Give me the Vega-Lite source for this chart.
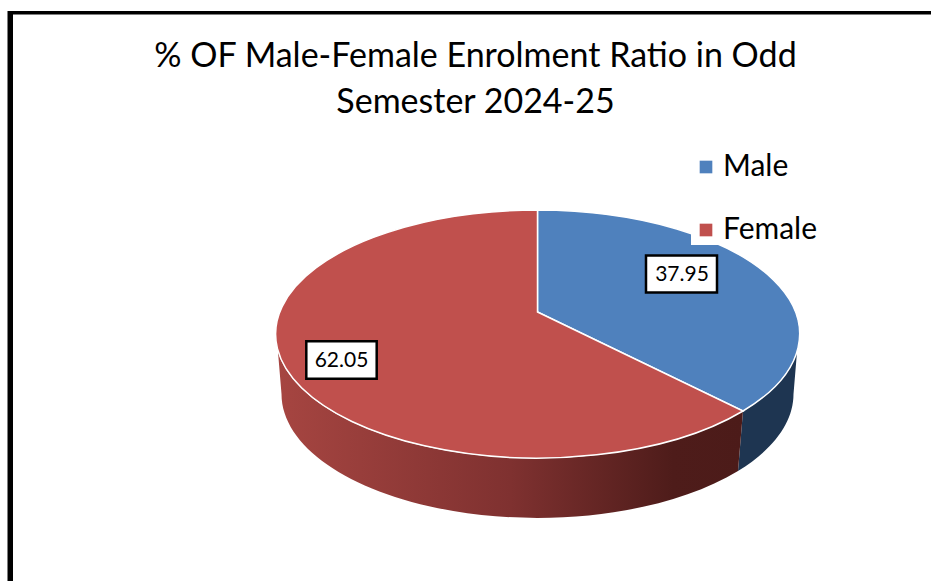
{"$schema":"https://vega.github.io/schema/vega-lite/v6.json","width":931,"height":481,"autosize":"none","padding":{"left":0,"right":0,"top":100,"bottom":0},"background":"white","view":{"stroke":null},"title":{"text":["% OF Male-Female Enrolment Ratio in Odd","Semester 2024-25"],"font":"Lato","fontSize":34,"fontWeight":"normal","color":"#000000","lineHeight":46,"anchor":"middle","frame":"group","dx":10,"offset":-136,"baseline":"alphabetic"},"data":{"values":[{"category":"Male","percent":37.95},{"category":"Female","percent":62.05}]},"layer":[{"transform":[{"filter":"datum.category==='Male'"}],"mark":{"type":"point","shape":"M331.5,11.5 A262,124 0 0 1 277.5,70.5 L272.5,130.5 A256,124 0 0 0 328,53.5 Z","size":4,"filled":true,"fill":"#1E3551","stroke":"#ffffff","strokeWidth":0,"opacity":1},"encoding":{}},{"transform":[{"filter":"datum.category==='Female'"}],"mark":{"type":"point","shape":"M-187.5,11.5 A262,124 0 0 0 277.5,70.5 L272.5,130.5 A256,124 0 0 1 -184,53.5 Z","size":4,"filled":true,"fill":{"gradient":"linear","x1":0,"y1":0,"x2":1,"y2":0,"stops":[{"offset":0,"color":"#A64541"},{"offset":0.5,"color":"#7F3130"},{"offset":0.85,"color":"#4E1C1A"},{"offset":1,"color":"#4C1B19"}]},"opacity":1},"encoding":{}},{"transform":[{"filter":"datum.category==='Male'"}],"mark":{"type":"point","shape":"M72,-28.5 L72,-130.5 A262,124 0 0 1 277.5,70.5 Z","size":4,"filled":true,"stroke":"#ffffff","strokeWidth":1.5,"opacity":1},"encoding":{"color":{"field":"category","type":"nominal","scale":{"domain":["Male","Female"],"range":["#4F81BD","#C0504D"]},"legend":{"orient":"none","legendX":691,"legendY":52,"title":null,"symbolType":"square","symbolSize":160,"symbolStrokeWidth":0,"labelFont":"Lato","labelFontSize":30,"labelColor":"#000000","labelOffset":2,"rowPadding":33,"fillColor":"#ffffff","padding":0,"zindex":1}}}},{"transform":[{"filter":"datum.category==='Female'"}],"mark":{"type":"point","shape":"M72,-28.5 L277.5,70.5 A262,124 0 1 1 72,-130.5 Z","size":4,"filled":true,"stroke":"#ffffff","strokeWidth":1.5,"opacity":1},"encoding":{"color":{"field":"category","type":"nominal"}}},{"transform":[{"filter":"datum.category==='Male'"}],"mark":{"type":"point","shape":"M180.5,-85 L251.5,-85 L251.5,-48 L180.5,-48 Z","size":4,"filled":true,"fill":"#ffffff","stroke":"#000000","strokeWidth":2.5,"opacity":1},"encoding":{}},{"transform":[{"filter":"datum.category==='Female'"}],"mark":{"type":"point","shape":"M-159.2,0.8 L-88.8,0.8 L-88.8,38.2 L-159.2,38.2 Z","size":4,"filled":true,"fill":"#ffffff","stroke":"#000000","strokeWidth":2.5,"opacity":1},"encoding":{}},{"transform":[{"filter":"datum.category==='Male'"}],"mark":{"type":"text","font":"Lato","fontSize":21,"color":"#000000","dx":216.5,"dy":-65.5,"baseline":"middle","align":"center"},"encoding":{"text":{"field":"percent","type":"quantitative","format":".2f"}}},{"transform":[{"filter":"datum.category==='Female'"}],"mark":{"type":"text","font":"Lato","fontSize":21,"color":"#000000","dx":-124,"dy":20.5,"baseline":"middle","align":"center"},"encoding":{"text":{"field":"percent","type":"quantitative","format":".2f"}}},{"data":{"values":[{"element":"frame"}]},"mark":{"type":"point","shape":"M-458,-329.5 L465.5,-329.5 L465.5,-326 L-452.5,-326 L-452.5,240.5 L-458,240.5 Z","size":4,"filled":true,"fill":"#000000","strokeWidth":0,"opacity":1},"encoding":{}}]}
